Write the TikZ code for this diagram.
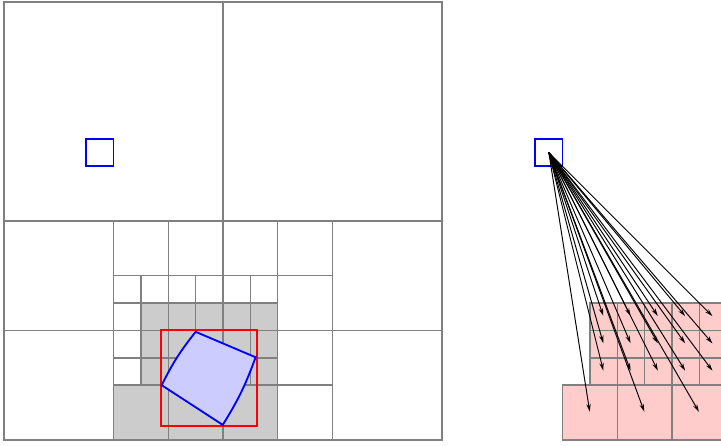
\documentclass[tikz,border=0pt]{standalone}
\usetikzlibrary{arrows.meta}
\begin{document}
\begin{tikzpicture}[x=1cm,y=1cm,
  cellw/.style={draw=gray,line width=1.5pt},
  cellg/.style={draw=gray,fill=gray!40,line width=1.5pt},
  cellp/.style={draw=gray,fill=red!20,line width=1.5pt},
  probe/.style={draw=blue,line width=2pt,minimum size=1cm,inner sep=0pt},
  elem/.style={draw=blue,fill=blue!20,line width=1.9pt},
  bbox/.style={draw=red,line width=2pt},
  link/.style={-{Stealth[length=8pt,width=4.5pt]},line width=1pt,black,shorten >=1pt}]
\clip (-0.146,-0.219) rectangle (26.19,16.07);
% ---------- left panel: quadtree ----------
\foreach \x/\y/\s in {0/8/8, 8/8/8, 0/4/4, 0/0/4, 12/4/4, 12/0/4,
                      4/6/2, 6/6/2, 8/6/2, 10/6/2, 10/4/2, 10/2/2, 10/0/2}
  \draw[cellw] (\x,\y) rectangle ++(\s,\s);
\foreach \x in {4,...,9} \draw[cellw] (\x,5) rectangle ++(1,1);
\foreach \y in {2,3,4} \draw[cellw] (4,\y) rectangle ++(1,1);
\foreach \x in {5,...,9} \foreach \y in {2,3,4}
  \draw[cellg] (\x,\y) rectangle ++(1,1);
\foreach \x in {4,6,8} \draw[cellg] (\x,0) rectangle ++(2,2);
\node[probe] (pL) at (3.5,10.5) {};
% element and its bounding box
\draw[bbox] (5.75,0.5) rectangle (9.25,4);
\coordinate (qL) at (5.76,2.0);
\coordinate (qT) at (7.0,3.95);
\coordinate (qR) at (9.19,3.02);
\coordinate (qB) at (7.99,0.55);
\draw[elem] (qL) to[bend left=6] (qT) -- (qR) to[bend left=6] (qB) -- cycle;
% ---------- right panel: interactions ----------
\begin{scope}[xshift=16.4cm]
\foreach \x in {5,...,9} \foreach \y in {2,3,4}{
  \draw[cellp] (\x,\y) rectangle ++(1,1);
  \coordinate (c-\x-\y) at (\x+0.5,\y+0.5);}
\foreach \x in {4,6,8}{
  \draw[cellp] (\x,0) rectangle ++(2,2);
  \coordinate (b-\x) at (\x+1,1);}
\node[probe] (pR) at (3.5,10.5) {};
\end{scope}
\foreach \x in {5,...,9} \foreach \y in {2,3,4}
  \draw[link] (pR.center) -- (c-\x-\y);
\foreach \x in {4,6,8}
  \draw[link] (pR.center) -- (b-\x);
\end{tikzpicture}
\end{document}
